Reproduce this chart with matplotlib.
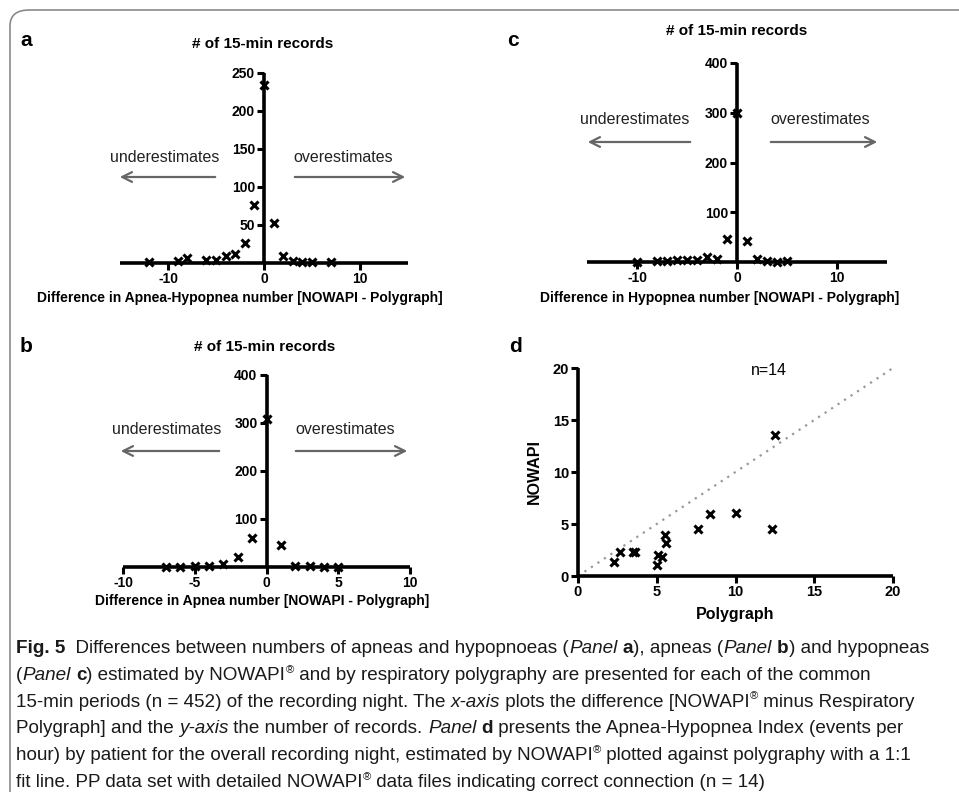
import matplotlib
matplotlib.use("Agg")
import matplotlib.pyplot as plt
from matplotlib.patches import FancyBboxPatch, FancyArrowPatch

W, H = 959, 792
DPI = 100

# ---------------- data ----------------
a_diff = [-12, -9, -8, -6, -5, -4, -3, -2, -1, 0, 1, 2, 3, 4, 5, 7]
a_count = [1, 2, 6, 4, 4, 9, 12, 26, 76, 234, 52, 9, 2, 1, 1, 1]
a_yticks = [50, 100, 150, 200, 250]
a_xticks = [-10, 0, 10]

b_diff = [-7, -6, -5, -4, -3, -2, -1, 0, 1, 2, 3, 4, 5]
b_count = [1, 1, 3, 3, 7, 20, 60, 308, 45, 3, 2, 1, 1]
b_yticks = [100, 200, 300, 400]
b_xticks = [-10, -5, 0, 5, 10]

c_diff = [-10, -8, -7, -6, -5, -4, -3, -2, -1, 0, 1, 2, 3, 4, 5]
c_count = [1, 3, 3, 4, 5, 4, 11, 6, 46, 300, 42, 6, 3, 1, 2]
c_yticks = [100, 200, 300, 400]
c_xticks = [-10, 0, 10]

d_polygraph = [12.5, 8.4, 10.0, 7.6, 12.3, 5.5, 5.6, 2.3, 2.65, 3.5, 3.65, 5.0, 5.1, 5.35]
d_nowapi = [13.6, 6.0, 6.1, 4.5, 4.5, 3.9, 3.2, 1.3, 2.3, 2.3, 2.3, 1.1, 2.0, 1.8]
d_ticks = [0, 5, 10, 15, 20]
d_identity = [0, 20]

xlab_a = "Difference in Apnea-Hypopnea number [NOWAPI - Polygraph]"
xlab_b = "Difference in Apnea number [NOWAPI - Polygraph]"
xlab_c = "Difference in Hypopnea number [NOWAPI - Polygraph]"
title_hist = "# of 15-min records"

SANS = ["Liberation Sans", "DejaVu Sans"]
plt.rcParams["font.family"] = SANS
plt.rcParams["axes.unicode_minus"] = False

fig = plt.figure(figsize=(W / DPI, H / DPI), dpi=DPI)


def px(x, y):
    return x / W, 1 - y / H


def boldticks(ax):
    for lab in ax.get_xticklabels() + ax.get_yticklabels():
        lab.set_fontweight("bold")


def make_ax(x0, x1, xmin, xmax, ytop, ybot, ymin, ymax):
    ax = fig.add_axes([x0 / W, 1 - ybot / H, (x1 - x0) / W, (ybot - ytop) / H])
    ax.set_xlim(xmin, xmax)
    ax.set_ylim(ymin, ymax)
    ax.patch.set_alpha(0)
    for s in ["top", "right"]:
        ax.spines[s].set_visible(False)
    for s in ["left", "bottom"]:
        ax.spines[s].set_linewidth(2.6)
        ax.spines[s].set_capstyle("butt")
    ax.tick_params(width=2.2, length=5, labelsize=10, pad=1.5)
    return ax


def hist_panel(x0, x1, xmin, xmax, ytop, ybot, ymax, xs, ys, yticks, xticks):
    ax = make_ax(x0, x1, xmin, xmax, ytop, ybot, 0, ymax)
    ax.spines["left"].set_position(("data", 0))
    ax.spines["left"].set_bounds(0, ymax)
    ax.set_yticks(yticks)
    ax.set_xticks(xticks)
    boldticks(ax)
    ax.plot(xs, ys, linestyle="none", marker="x", color="black", ms=6, mew=2.2, clip_on=False, zorder=5)
    return ax


def arrows(ux, uy, ax0, ax1, ay, ox, ox0, ox1):
    fig.text(*px(ux, uy), "underestimates", ha="center", va="center", fontsize=11.5, color="#222222")
    fig.text(*px(ox, uy), "overestimates", ha="left", va="center", fontsize=11.5, color="#222222")
    style = "->,head_length=0.7,head_width=0.35"
    for p0, p1 in [((ax0, ay), (ax1, ay)), ((ox0, ay), (ox1, ay))]:
        fig.add_artist(FancyArrowPatch(px(*p0), px(*p1), transform=fig.transFigure, arrowstyle=style,
                                       color="#666666", lw=1.6, mutation_scale=10))


# border
fig.add_artist(FancyBboxPatch((10 / W, 1 - 1100 / H), 2000 / W, (1100 - 10) / H,
                              boxstyle="round,pad=0,rounding_size=0.02", transform=fig.transFigure,
                              fill=False, ec="#8a8a8a", lw=1.2))

# panel a
axa = hist_panel(120, 408, -15, 15, 73, 263, 250, a_diff, a_count, a_yticks, a_xticks)
fig.text(*px(26, 41), "a", fontsize=15, fontweight="bold", ha="center", va="center")
fig.text(*px(263, 44), title_hist, fontsize=11, fontweight="bold", ha="center", va="center")
fig.text(*px(240, 298), xlab_a, fontsize=10, fontweight="bold", ha="center", va="center")
arrows(165, 157, 218, 117, 177, 293, 292, 408)

# panel c
axc = hist_panel(587, 887, -15, 15, 63, 262, 400, c_diff, c_count, c_yticks, c_xticks)
fig.text(*px(513, 41), "c", fontsize=15, fontweight="bold", ha="center", va="center")
fig.text(*px(737, 31), title_hist, fontsize=11, fontweight="bold", ha="center", va="center")
fig.text(*px(720, 298), xlab_c, fontsize=10, fontweight="bold", ha="center", va="center")
arrows(635, 120, 693, 585, 142, 770, 768, 880)

# panel b
axb = hist_panel(123, 410, -10, 10, 375, 567, 400, b_diff, b_count, b_yticks, b_xticks)
fig.text(*px(26, 347), "b", fontsize=15, fontweight="bold", ha="center", va="center")
fig.text(*px(265, 347), title_hist, fontsize=11, fontweight="bold", ha="center", va="center")
fig.text(*px(262, 601), xlab_b, fontsize=10, fontweight="bold", ha="center", va="center")
arrows(167, 430, 222, 118, 451, 295, 293, 410)

# panel d
axd = make_ax(578, 893, 0, 20, 368, 576, 0, 20)
axd.set_xticks(d_ticks)
axd.set_yticks(d_ticks)
boldticks(axd)
axd.tick_params(labelsize=10.5)
axd.plot(d_identity, d_identity, linestyle=(0, (1, 2.5)), color="#999999", lw=1.6)
axd.plot(d_polygraph, d_nowapi, linestyle="none", marker="x", color="black", ms=6, mew=2.2, clip_on=False, zorder=5)
axd.set_xlabel("Polygraph", fontsize=11.5, fontweight="bold", labelpad=6)
axd.set_ylabel("NOWAPI", fontsize=11.5, fontweight="bold", labelpad=8)
axd.text(12.1, 19.8, "n=14", fontsize=11.5, ha="center", va="center")
fig.text(*px(515, 347), "d", fontsize=15, fontweight="bold", ha="center", va="center")

# ---------------- caption ----------------
cap_lines = [
    [("Fig. 5", "b"), ("  Differences between numbers of apneas and hypopnoeas (", "r"), ("Panel", "i"), (" ", "r"), ("a", "b"),
     ("), apneas (", "r"), ("Panel", "i"), (" ", "r"), ("b", "b"), (") and hypopneas", "r")],
    [("(", "r"), ("Panel", "i"), (" ", "r"), ("c", "b"), (") estimated by NOWAPI", "r"), ("®", "s"),
     (" and by respiratory polygraphy are presented for each of the common", "r")],
    [("15-min periods (n = 452) of the recording night. The ", "r"), ("x-axis", "i"),
     (" plots the difference [NOWAPI", "r"), ("®", "s"), (" minus Respiratory", "r")],
    [("Polygraph] and the ", "r"), ("y-axis", "i"), (" the number of records. ", "r"), ("Panel", "i"), (" ", "r"),
     ("d", "b"), (" presents the Apnea-Hypopnea Index (events per", "r")],
    [("hour) by patient for the overall recording night, estimated by NOWAPI", "r"), ("®", "s"),
     (" plotted against polygraphy with a 1:1", "r")],
    [("fit line. PP data set with detailed NOWAPI", "r"), ("®", "s"),
     (" data files indicating correct connection (n = 14)", "r")],
]

renderer = fig.canvas.get_renderer()
cap_x0 = 16
cap_y0 = 653
cap_dy = 26.8
cap_fs = 13.6
for i, segs in enumerate(cap_lines):
    x = cap_x0
    ybase = cap_y0 + i * cap_dy
    for txt, st in segs:
        kw = dict(fontsize=cap_fs, family=SANS, color="#1a1a1a", va="baseline", ha="left")
        yy = ybase
        if st == "b":
            kw["fontweight"] = "bold"
        elif st == "i":
            kw["fontstyle"] = "italic"
        elif st == "s":
            kw["fontsize"] = cap_fs * 0.6
            yy = ybase - 7
        t = fig.text(x / W, 1 - yy / H, txt, **kw)
        x += t.get_window_extent(renderer).width

fig.savefig("out.png", dpi=DPI)
